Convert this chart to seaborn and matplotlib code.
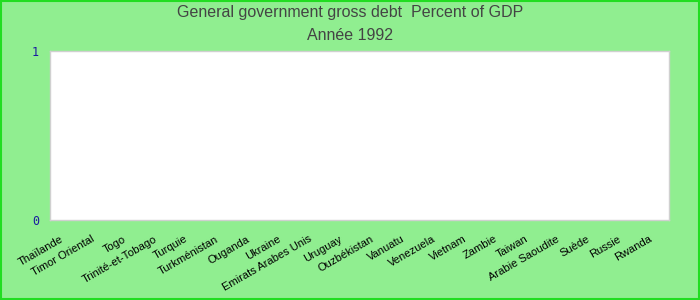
import matplotlib
matplotlib.use("Agg")
import matplotlib.pyplot as plt
import matplotlib.transforms as mtransforms
import seaborn as sns
import pandas as pd
from matplotlib.patches import Rectangle

countries = ["Thaïlande", "Timor Oriental", "Togo", "Trinité-et-Tobago", "Turquie",
             "Turkménistan", "Ouganda", "Ukraine", "Emirats Arabes Unis", "Uruguay",
             "Ouzbékistan", "Vanuatu", "Venezuela", "Vietnam", "Zambie", "Taiwan",
             "Arabie Saoudite", "Suède", "Russie", "Rwanda"]
values = [0.0] * len(countries)
title_line1 = "General government gross debt  Percent of GDP"
title_line2 = "Année 1992"
y_ticks = [0, 1]

sns.set_theme(style="white")
plt.rcParams['font.family'] = ['Liberation Sans', 'DejaVu Sans']

df = pd.DataFrame({"pays": countries, "valeur": values})

fig = plt.figure(figsize=(7, 3), dpi=100)
fig.patch.set_facecolor("#90EE90")
ax = fig.add_axes([50/700, 80/300, 619/700, 169/300])
ax.set_facecolor("white")

sns.barplot(data=df, x="pays", y="valeur", ax=ax, color="#4472C4")

ax.set_ylim(0, 1)
ax.set_yticks(y_ticks)
ax.set_yticklabels([str(t) for t in y_ticks], color="#1a1aa0",
                   family="DejaVu Sans Mono", fontsize=8.5)
ax.tick_params(axis="y", length=0, pad=8)
ax.tick_params(axis="x", length=0, pad=10)
ax.set_xticks(range(len(countries)))
ax.set_xticklabels(countries, rotation=30, ha="right", va="top", rotation_mode="anchor",
                   fontsize=8, color="black")
shift = mtransforms.ScaledTranslation(-5/100, 0, fig.dpi_scale_trans)
for lab in ax.get_xticklabels():
    lab.set_transform(lab.get_transform() + shift)
ax.set_xlabel("")
ax.set_ylabel("")
for s in ax.spines.values():
    s.set_color("#d0d0d0")
    s.set_linewidth(1)

fig.text(0.5, 1 - 13/300, title_line1, ha="center", va="center", fontsize=11.5, color="#444444")
fig.text(0.5, 1 - 35/300, title_line2, ha="center", va="center", fontsize=11.5, color="#444444")

fig.patches.append(Rectangle((0.001, 0.002), 0.998, 0.996, transform=fig.transFigure,
                             fill=False, edgecolor="#22dd22", linewidth=1.5))

fig.savefig("out.png", dpi=100, facecolor=fig.get_facecolor())
